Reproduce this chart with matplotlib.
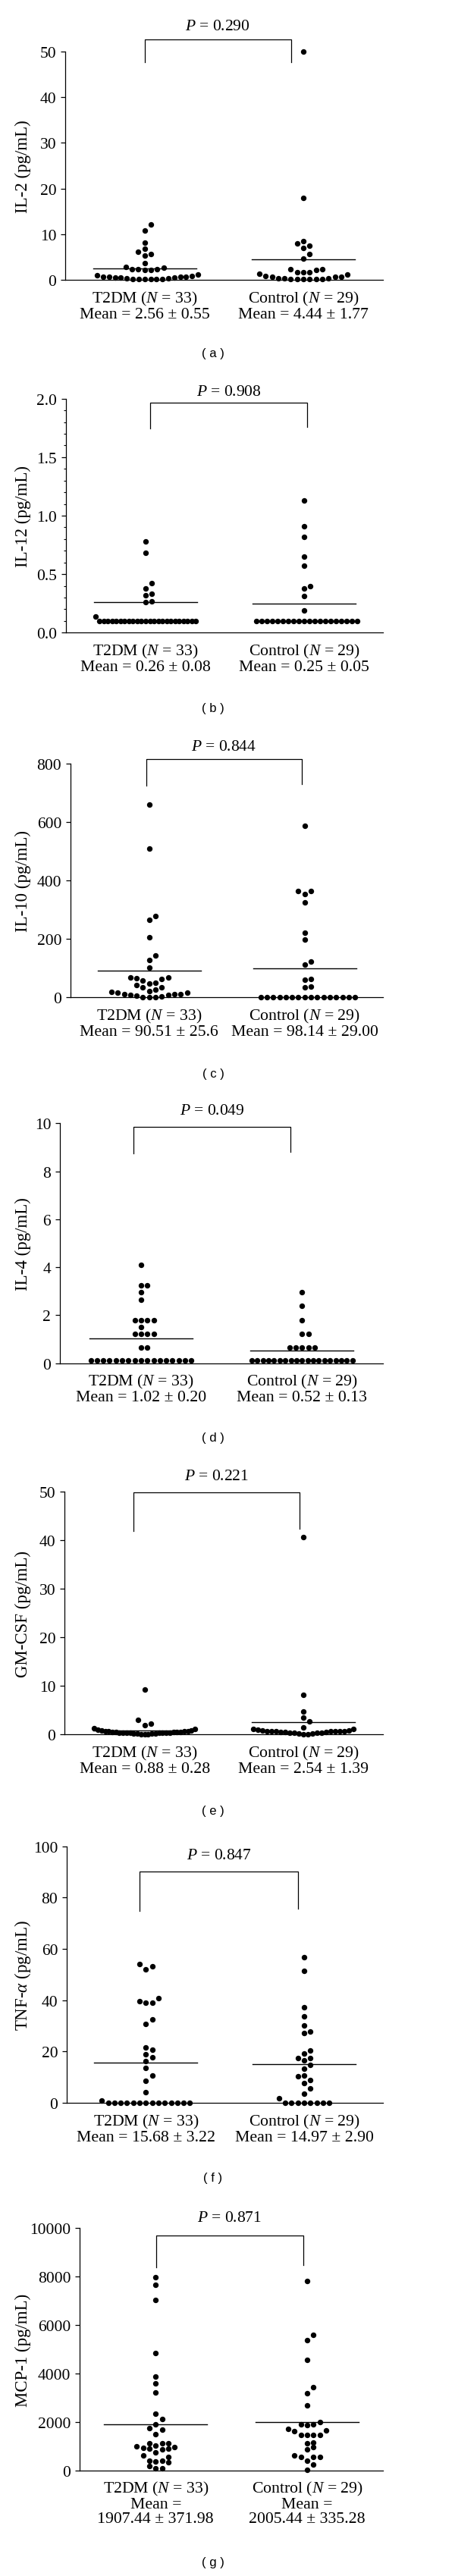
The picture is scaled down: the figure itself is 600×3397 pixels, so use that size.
import numpy as np
import matplotlib
matplotlib.use("Agg")
import matplotlib.pyplot as plt
from matplotlib.ticker import MultipleLocator, FormatStrFormatter

plt.rcParams['font.family'] = ['Liberation Serif', 'DejaVu Serif']
plt.rcParams['mathtext.fontset'] = 'custom'
plt.rcParams['mathtext.rm'] = 'Liberation Serif'
plt.rcParams['mathtext.it'] = 'Liberation Serif:italic'
plt.rcParams['mathtext.bf'] = 'Liberation Serif:bold'

groups = ['T2DM', 'Control']
group_n = [33, 29]

# (a) IL-2
il2_t2dm = [12.1, 10.8, 8.2, 6.8, 6.1, 5.7, 5.3, 3.6, 2.9, 2.7, 2.4, 2.3, 2.3, 2.2, 2.2,
            1.2, 1.0, 0.8, 0.7, 0.7, 0.6, 0.6, 0.55, 0.45, 0.45, 0.3, 0.25,
            0.1, 0.1, 0.1, 0.1, 0.1, 0.1]
il2_ctrl = [50.0, 18.0, 8.5, 7.9, 7.4, 6.9, 5.7, 4.6, 2.4, 2.4, 2.1, 1.7, 1.7, 1.6,
            1.3, 1.2, 0.8, 0.7, 0.6, 0.6, 0.4, 0.3, 0.3, 0.2, 0.2, 0.1, 0.1, 0.1, 0.1]
il2_mean = ['2.56 ± 0.55', '4.44 ± 1.77']

# (b) IL-12
il12_t2dm = [0.78, 0.68, 0.42, 0.38, 0.33, 0.32, 0.27, 0.26, 0.14] + [0.1] * 24
il12_ctrl = [1.13, 0.91, 0.82, 0.65, 0.57, 0.40, 0.38, 0.31, 0.19] + [0.1] * 20
il12_mean = ['0.26 ± 0.08', '0.25 ± 0.05']

# (c) IL-10
il10_t2dm = [658, 509, 278, 264, 204, 143, 128, 100, 67, 66, 56, 46, 50, 61, 67, 42,
             35, 27, 22, 33, 17, 16, 11, 9, 4, 0, 0, 0, 3, 7, 10, 11, 16]
il10_ctrl = [586, 363, 362, 353, 325, 221, 197, 121, 111, 61, 59, 37, 35] + [0] * 16
il10_mean = ['90.51 ± 25.6', '98.14 ± 29.00']

# (d) IL-4
il4_t2dm = [4.11, 3.24, 3.24, 2.96, 2.66, 1.80, 1.80, 1.80, 1.80, 1.51,
            1.22, 1.22, 1.22, 1.22, 0.66, 0.66] + [0.12] * 17
il4_ctrl = [2.95, 2.38, 1.80, 1.22, 1.22, 0.66, 0.66, 0.66, 0.66, 0.66] + [0.12] * 19
il4_mean = ['1.02 ± 0.20', '0.52 ± 0.13']

# (e) GM-CSF
gmcsf_t2dm = [9.27, 2.97, 2.29, 1.93, 1.3, 1.1, 1.0, 0.9, 0.8, 0.7, 0.7, 0.6, 0.6, 0.55,
              0.5, 0.5, 0.45, 0.45, 0.4, 0.4, 0.4, 0.35, 0.35, 0.3, 0.3, 0.3, 0.25,
              0.2, 0.2, 0.15, 0.1, 0.1, 0.1]
gmcsf_ctrl = [40.6, 8.2, 4.8, 3.5, 2.76, 1.5, 1.2, 1.1, 1.0, 0.9, 0.8, 0.7, 0.7, 0.7,
              0.6, 0.6, 0.6, 0.6, 0.5, 0.5, 0.5, 0.4, 0.4, 0.3, 0.3, 0.2, 0.2, 0.1, 0.1]
gmcsf_mean = ['0.88 ± 0.28', '2.54 ± 1.39']

# (f) TNF-alpha
tnf_t2dm = [54.2, 53.2, 51.9, 40.8, 39.6, 39.0, 39.0, 32.4, 30.7, 21.7, 20.8, 18.9,
            17.7, 16.2, 13.5, 10.5, 8.6, 4.1, 1.0] + [0] * 14
tnf_ctrl = [56.7, 51.3, 37.1, 33.6, 30.2, 27.8, 27.2, 20.4, 19.1, 17.4, 17.4, 16.6,
            14.7, 13.2, 10.5, 10.2, 8.8, 7.8, 5.6, 3.6, 1.9] + [0] * 8
tnf_mean = ['15.68 ± 3.22', '14.97 ± 2.90']

# (g) MCP-1
mcp1_t2dm = [7965, 7651, 7025, 4843, 3873, 3591, 3225, 2328, 2129, 1889, 1733, 1681,
             1493, 981, 1106, 1106, 1033, 1106, 919, 898, 866, 898, 950, 731, 553,
             605, 365, 397, 397, 344, 167, 94, 94]
mcp1_ctrl = [7808, 5585, 5365, 4551, 3445, 3194, 2672, 1994, 1910, 1868, 1910, 1701,
             1628, 1649, 1451, 1451, 1451, 1472, 1159, 1127, 950, 866, 605, 564, 564,
             560, 407, 240, 10]
mcp1_mean = ['1907.44 ± 371.98', '2005.44 ± 335.28']

p_values = ['0.290', '0.908', '0.844', '0.049', '0.221', '0.847', '0.871']
y_labels = ['IL-2 (pg/mL)', 'IL-12 (pg/mL)', 'IL-10 (pg/mL)', 'IL-4 (pg/mL)',
            'GM-CSF (pg/mL)', 'TNF-$\\alpha$ (pg/mL)', 'MCP-1 (pg/mL)']
y_max = [50, 2.0, 800, 10, 50, 100, 10000]
y_step = [10, 0.5, 200, 2, 10, 20, 2000]
panel_tags = ['a', 'b', 'c', 'd', 'e', 'f', 'g']

panel_data = [(il2_t2dm, il2_ctrl, il2_mean), (il12_t2dm, il12_ctrl, il12_mean),
              (il10_t2dm, il10_ctrl, il10_mean), (il4_t2dm, il4_ctrl, il4_mean),
              (gmcsf_t2dm, gmcsf_ctrl, gmcsf_mean), (tnf_t2dm, tnf_ctrl, tnf_mean),
              (mcp1_t2dm, mcp1_ctrl, mcp1_mean)]

# layout, in pixels of the 600 x 3398 canvas: axes box (left, top, right, bottom)
BOX = [(86, 69, 505, 370), (87, 526.7, 505, 835.3), (93, 1007.7, 505, 1316),
       (79, 1482.3, 505, 1798.7), (85, 1968.3, 505, 2288.3), (88, 2435.7, 505, 2774),
       (105, 2939.3, 505, 3258.7)]
CENTERS = [(190.7, 400), (192, 401), (196.7, 401.7), (186, 398.3), (190.7, 400),
           (192.3, 401), (205.3, 405)]
# bracket: x left, x right (category units), y top, y bottom left, y bottom right,
# baseline of the P text (data units)
BRACKET = [(0, 0.922, 52.7, 47.7, 47.7, 54.9),
           (0.027, 1.02, 1.968, 1.745, 1.758, 2.032),
           (-0.02, 0.98, 815.6, 723, 729, 846),
           (-0.047, 0.929, 9.85, 8.75, 8.8, 10.39),
           (-0.07, 0.978, 49.9, 41.9, 42.4, 52.6),
           (-0.04, 0.963, 90.1, 74.8, 75.7, 95.3),
           (0.0035, 0.975, 9696, 8390, 8466, 10291)]
TAG_Y = [467, 935, 1417, 1897, 2388, 2873, 3380]
W, H = 600, 3398
DOT_PX = 8.3
MEAN_HALF_PX = 68


def swarm_x(values, center, dx, dy, max_row=17):
    # Prism-like scatter: points close in y share a row, spread out from the centre
    vals = np.asarray(values, float)
    order = np.argsort(vals, kind='stable')
    xs = np.empty(len(vals))
    i = 0
    while i < len(order):
        start = vals[order[i]]
        j = i
        while j < len(order) and vals[order[j]] <= start + dy:
            j += 1
        row = order[i:j]
        k = len(row)
        step = dx if k <= max_row else dx * (max_row - 1) / (k - 1)
        for m, idx in enumerate(row):
            slot = (m + 1) // 2 * (1 if m % 2 else -1)
            xs[idx] = center + slot * step
        i = j
    return xs


fig = plt.figure(figsize=(W / 100, H / 100), dpi=100)

for p in range(7):
    left, top, right, bottom = BOX[p]
    c0, c1 = CENTERS[p]
    unit = c1 - c0
    ax = fig.add_axes([left / W, 1 - bottom / H, (right - left) / W, (bottom - top) / H])
    ax.set_xlim(-(c0 - left) / unit, 1 + (right - c1) / unit)
    ax.set_ylim(0, y_max[p])
    for s in ['top', 'right']:
        ax.spines[s].set_visible(False)
    for s in ['left', 'bottom']:
        ax.spines[s].set_linewidth(0.9)
    ax.set_xticks([])
    ax.yaxis.set_major_locator(MultipleLocator(y_step[p]))
    if p == 1:
        ax.yaxis.set_minor_locator(MultipleLocator(0.1))
        ax.yaxis.set_major_formatter(FormatStrFormatter('%.1f'))
    ax.tick_params(axis='y', which='major', length=4, width=0.9, labelsize=15.5, pad=4.5)
    ax.tick_params(axis='y', which='minor', length=2.5, width=0.8)

    dx = DOT_PX / unit
    dy = DOT_PX * y_max[p] / (bottom - top)
    t2dm, ctrl, means = panel_data[p]
    for g, vals in enumerate([t2dm, ctrl]):
        xs = swarm_x(vals, g, dx, dy)
        ax.scatter(xs, vals, s=28, color='black', linewidths=0, clip_on=False, zorder=3)
        m = float(means[g].split()[0])
        half = MEAN_HALF_PX / unit
        ax.plot([g - half, g + half], [m, m], color='black', lw=1.0, zorder=2)
        if p == 6:
            label = f'{groups[g]} ($N$ = {group_n[g]})\nMean =\n{means[g]}'
        else:
            label = f'{groups[g]} ($N$ = {group_n[g]})\nMean = {means[g]}'
        ax.annotate(label, xy=(g, 0), xycoords=('data', 'axes fraction'),
                    xytext=(0, -9), textcoords='offset points', ha='center', va='top',
                    fontsize=15.7, linespacing=1.0, annotation_clip=False)

    x0, x1, yt, yb0, yb1, py = BRACKET[p]
    ax.plot([x0, x0, x1, x1], [yb0, yt, yt, yb1], color='black', lw=0.9, clip_on=False)
    ax.text((x0 + x1) / 2, py, f'$P$ = {p_values[p]}', ha='center', va='baseline',
            fontsize=15.5, clip_on=False)

    fig.text(30 / W, 1 - (top + bottom) / 2 / H, y_labels[p], rotation=90,
             ha='center', va='center', fontsize=16.5)
    fig.text(281 / W, 1 - TAG_Y[p] / H, f'( {panel_tags[p]} )', ha='center', va='center',
             fontsize=12, family=['Liberation Sans', 'DejaVu Sans'])

fig.savefig('out.png', dpi=100)
